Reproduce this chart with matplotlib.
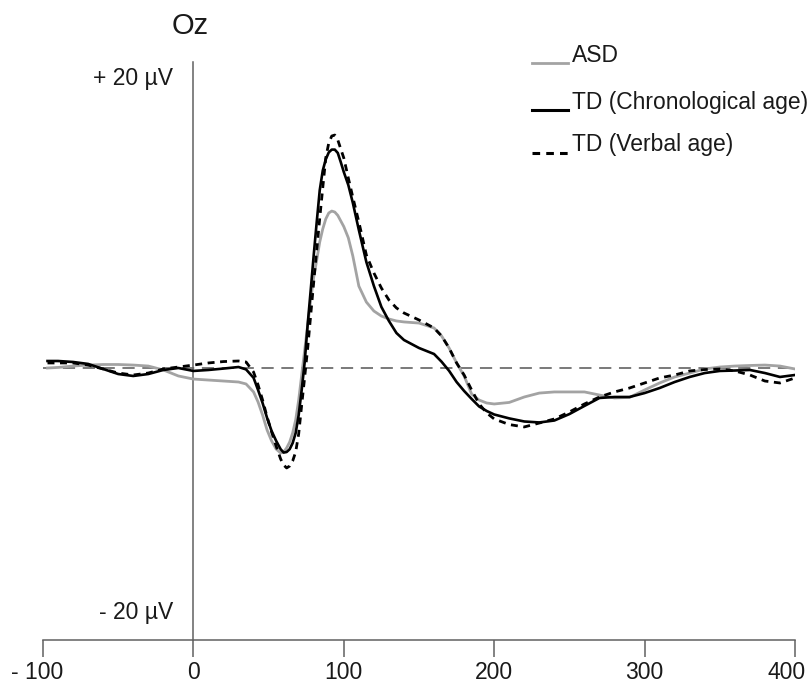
import matplotlib
matplotlib.use("Agg")
import matplotlib.pyplot as plt
from matplotlib.lines import Line2D
from matplotlib.transforms import ScaledTranslation

plt.rcParams['font.family'] = ['Liberation Sans', 'DejaVu Sans']

# time (ms)
time = [-97, -90, -80, -70, -60, -50, -40, -30, -20, -10, 0, 10, 20, 30,
        35, 40, 43, 46, 49, 52, 55, 58, 60, 62, 64, 66, 68, 70, 72, 74, 76, 78, 80, 82, 84,
        86, 88, 90, 92, 94, 96, 98, 100, 103, 106, 110, 115, 120, 125, 130, 135, 140, 150,
        160, 165, 170, 175, 180, 185, 190, 195, 200, 210, 220, 230, 240,
        250, 260, 270, 280, 290, 300, 310, 320, 330, 340, 350, 360, 370, 380, 390, 400]

td_chrono = [0.5, 0.5, 0.43, 0.29, -0.07, -0.43, -0.57, -0.43, -0.14, 0.0, -0.21, -0.14, -0.04, 0.07,
             -0.1, -0.7, -1.57, -2.5, -3.57, -4.5, -5.2, -5.8, -6.04, -6.0, -5.8, -5.36, -4.64,
             -3.36, -1.57, 0.43, 3.14, 5.57, 8.07, 10.43, 12.7, 14.1, 14.9, 15.4, 15.6, 15.6,
             15.36, 14.7, 14.0, 13.07, 11.8, 9.86, 7.57, 5.86, 4.36, 3.36, 2.5, 2.0, 1.43,
             1.0, 0.45, -0.2, -1.0, -1.64, -2.21, -2.75, -3.07, -3.32, -3.6, -3.82, -3.89, -3.75,
             -3.29, -2.71, -2.14, -2.07, -2.07, -1.79, -1.43, -1.0, -0.64, -0.36, -0.21, -0.18,
             -0.14, -0.36, -0.64, -0.5]

td_verbal = [0.36, 0.36, 0.36, 0.21, -0.07, -0.36, -0.5, -0.36, -0.07, 0.07, 0.21, 0.36, 0.46, 0.5,
             0.43, -0.29, -1.21, -2.29, -3.5, -4.57, -5.57, -6.5, -6.93, -7.14, -7.0, -6.64, -6.0,
             -4.71, -2.64, -0.64, 1.43, 3.79, 6.14, 8.43, 10.7, 12.86, 15.0, 16.07, 16.57, 16.64,
             16.29, 15.64, 15.0, 13.57, 12.2, 10.43, 8.07, 6.79, 5.71, 4.86, 4.29, 3.93, 3.43,
             2.86, 2.29, 1.43, 0.36, -0.5, -1.57, -2.57, -3.21, -3.64, -4.04, -4.21, -3.93, -3.64,
             -3.14, -2.57, -2.07, -1.71, -1.43, -1.07, -0.71, -0.5, -0.21, -0.11, -0.07, -0.21,
             -0.5, -0.93, -1.07, -0.71]

asd = [0.0, 0.04, 0.14, 0.21, 0.25, 0.25, 0.21, 0.14, -0.14, -0.57, -0.79, -0.86, -0.93, -1.0,
       -1.14, -1.71, -2.43, -3.36, -4.43, -5.21, -5.79, -6.07, -6.0, -5.71, -5.29, -4.64, -3.71,
       -2.29, -0.5, 1.29, 3.07, 4.86, 6.5, 7.71, 9.0, 9.93, 10.64, 11.07, 11.21, 11.14,
       10.9, 10.5, 10.1, 9.3, 8.0, 5.85, 4.71, 4.07, 3.71, 3.5, 3.36, 3.29, 3.21,
       2.86, 2.29, 1.43, 0.36, -0.57, -1.86, -2.29, -2.5, -2.57, -2.46, -2.07, -1.79, -1.71,
       -1.71, -1.71, -1.93, -2.14, -2.1, -1.57, -1.07, -0.64, -0.36, -0.07, 0.07, 0.14,
       0.18, 0.21, 0.14, -0.07]

xticks = [-100, 0, 100, 200, 300, 400]
xtick_labels = ["- 100", "0", "100", "200", "300", "400"]
series_labels = ["ASD", "TD (Chronological age)", "TD (Verbal age)"]

W, H = 808, 683
fig = plt.figure(figsize=(W / 100, H / 100), dpi=100)
ax = fig.add_axes([43 / W, (H - 640) / H, (795 - 43) / W, (640 - 62) / H])
ax.set_xlim(-100, 400)
px_per_uv = 14.0
ax.set_ylim(-(640 - 368) / px_per_uv, (368 - 62) / px_per_uv)

axis_col = '#606060'
ax.axhline(0, color='#555555', lw=1.1, dashes=(8, 5), zorder=1)
ax.plot(time, asd, color='#a3a3a3', lw=2.0, zorder=3, solid_joinstyle='round')
ax.plot(time, td_chrono, color='black', lw=1.9, zorder=4, solid_joinstyle='round')
ax.plot(time, td_verbal, color='black', lw=2.0, dashes=(2.5, 2.0), zorder=5)

for s in ['top', 'right']:
    ax.spines[s].set_visible(False)
ax.spines['left'].set_position(('data', 0))
ax.spines['left'].set_color(axis_col)
ax.spines['left'].set_linewidth(1.1)
ax.spines['bottom'].set_color(axis_col)
ax.spines['bottom'].set_linewidth(1.1)
ax.set_yticks([])
ax.set_xticks(xticks)
ax.set_xticklabels(xtick_labels, fontsize=16.5, color='#1a1a1a')
ax.tick_params(axis='x', direction='out', length=12, width=1.1, color=axis_col, pad=3)
labs = ax.get_xticklabels()
labs[0].set_transform(labs[0].get_transform() + ScaledTranslation(-6 / 100, 0, fig.dpi_scale_trans))
labs[-1].set_transform(labs[-1].get_transform() + ScaledTranslation(-8 / 100, 0, fig.dpi_scale_trans))

fig.text(190 / W, 1 - 26 / H, "Oz", fontsize=21, ha='center', va='center', color='#1a1a1a')
fig.text(173 / W, 1 - 78 / H, "+ 20 µV", fontsize=16.5, ha='right', va='center', color='#1a1a1a')
fig.text(173 / W, 1 - 613 / H, "- 20 µV", fontsize=16.5, ha='right', va='center', color='#1a1a1a')

# legend drawn manually
leg_specs = [
    dict(color='#a3a3a3', lw=2.0, ls='-', line_y=63, text_y=55),
    dict(color='black', lw=2.2, ls='-', line_y=110, text_y=102),
    dict(color='black', lw=2.2, ls=(0, (2.5, 2.0)), line_y=153, text_y=145),
]
for spec, lab in zip(leg_specs, series_labels):
    fig.add_artist(Line2D([532 / W, 568 / W], [1 - spec['line_y'] / H] * 2,
                          color=spec['color'], lw=spec['lw'], linestyle=spec['ls']))
    fig.text(572 / W, 1 - spec['text_y'] / H, lab, fontsize=16.5, ha='left', va='center',
             color='#1a1a1a')

fig.savefig("out.png", dpi=100)
